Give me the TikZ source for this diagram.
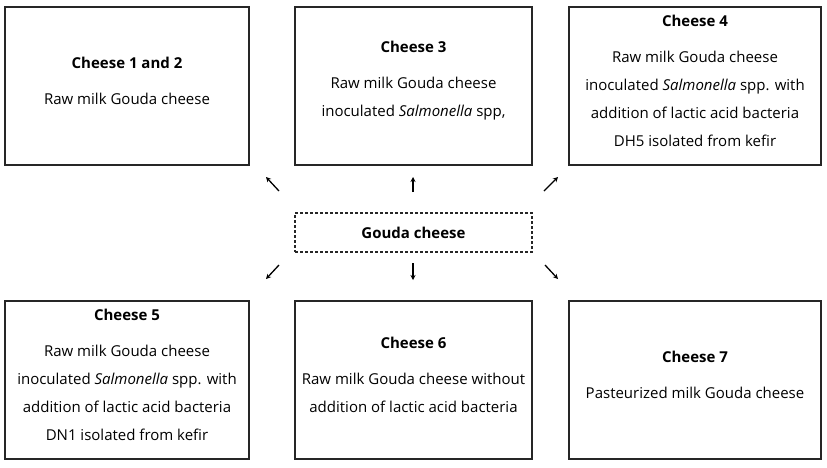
\documentclass[tikz,border=0pt]{standalone}
\usepackage{fontspec}
\setmainfont{Open Sans}
\usetikzlibrary{arrows.meta}
\tikzset{
  box/.style={draw=black!85, line width=1.3pt, rectangle, inner sep=0pt},
  txt/.style={align=center, inner sep=0pt, font=\fontsize{15}{28}\selectfont},
  gouda/.style={draw=black!85, line width=1.1pt, dash pattern=on 3pt off 2pt, rectangle, inner sep=0pt, minimum width=237pt, minimum height=39pt, font=\bfseries\fontsize{15}{18}\selectfont},
  arr/.style={line width=1.3pt, -{Stealth[length=5pt,width=5pt]}}
}
\begin{document}
\begin{tikzpicture}[x=1pt,y=-1pt]
\useasboundingbox (0,0) rectangle (827,467);
\node[box, minimum width=244pt, minimum height=158pt] (c1) at (127,86) {};
\node[box, minimum width=237pt, minimum height=158pt] (c3) at (413.5,86) {};
\node[box, minimum width=252pt, minimum height=158pt] (c4) at (695,86) {};
\node[box, minimum width=244pt, minimum height=158pt] (c5) at (127,380) {};
\node[box, minimum width=237pt, minimum height=158pt] (c6) at (413.5,380) {};
\node[box, minimum width=252pt, minimum height=158pt] (c7) at (695,380) {};
\node[gouda] (g) at (413.5,232.5) {Gouda cheese};

\node[txt] (t1) at ([yshift=5pt]c1.center) {\textbf{Cheese 1 and 2}\\[8pt]Raw milk Gouda cheese};
\node[txt] (t3) at ([yshift=5pt]c3.center) {\textbf{Cheese 3}\\[8pt]Raw milk Gouda cheese\\inoculated \textit{Salmonella} spp,};
\node[txt] (t4) at ([yshift=5pt]c4.center) {\textbf{Cheese 4}\\[8pt]Raw milk Gouda cheese\\inoculated \textit{Salmonella} spp. with\\addition of lactic acid bacteria\\DH5 isolated from kefir};
\node[txt] (t5) at ([yshift=5pt]c5.center) {\textbf{Cheese 5}\\[8pt]Raw milk Gouda cheese\\inoculated \textit{Salmonella} spp. with\\addition of lactic acid bacteria\\DN1 isolated from kefir};
\node[txt] (t6) at ([yshift=5pt]c6.center) {\textbf{Cheese 6}\\[8pt]Raw milk Gouda cheese without\\addition of lactic acid bacteria};
\node[txt] (t7) at ([yshift=5pt]c7.center) {\textbf{Cheese 7}\\[8pt]Pasteurized milk Gouda cheese};

\coordinate (a1s) at (279,191); \coordinate (a1e) at (266,177);
\coordinate (a3s) at (413,192); \coordinate (a3e) at (413,177);
\coordinate (a4s) at (544,191); \coordinate (a4e) at (558,177);
\coordinate (a5s) at (279,265); \coordinate (a5e) at (266,279);
\coordinate (a6s) at (413,263); \coordinate (a6e) at (413,280);
\coordinate (a7s) at (545,265); \coordinate (a7e) at (558,279);
\draw[arr] (a1s) -- (a1e);
\draw[arr] (a3s) -- (a3e);
\draw[arr] (a4s) -- (a4e);
\draw[arr] (a5s) -- (a5e);
\draw[arr] (a6s) -- (a6e);
\draw[arr] (a7s) -- (a7e);
\end{tikzpicture}
\end{document}
